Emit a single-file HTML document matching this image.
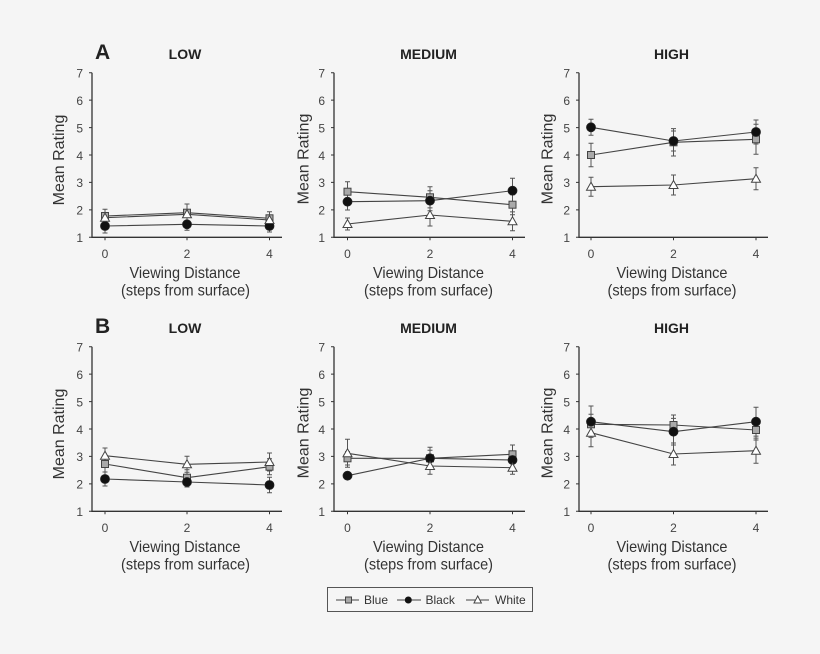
<!DOCTYPE html>
<html><head><meta charset="utf-8"><style>
html,body{margin:0;padding:0;background:#f5f5f5;}
svg{display:block;}
text{font-family:"Liberation Sans",Arial,sans-serif;}
</style></head><body>
<svg width="820" height="654" viewBox="0 0 820 654" xmlns="http://www.w3.org/2000/svg">
<rect width="820" height="654" fill="#f5f5f5"/>
<defs>
<g id="yt">
</g>
</defs>

<!-- panel labels & titles -->
<g fill="#222" font-weight="bold">
<text x="95" y="59" font-size="21">A</text>
<text x="95" y="333" font-size="21">B</text>
<text x="185" y="59" font-size="14" text-anchor="middle">LOW</text>
<text x="428.5" y="59" font-size="14" text-anchor="middle">MEDIUM</text>
<text x="671.5" y="59" font-size="14" text-anchor="middle">HIGH</text>
<text x="185" y="333" font-size="14" text-anchor="middle">LOW</text>
<text x="428.5" y="333" font-size="14" text-anchor="middle">MEDIUM</text>
<text x="671.5" y="333" font-size="14" text-anchor="middle">HIGH</text>
</g>

<!-- axes -->
<g stroke="#333" stroke-width="1.3" fill="none">
<path d="M92 72.7V237.3H282"/><path d="M334 72.7V237.3H525"/><path d="M579 72.7V237.3H768"/>
<path d="M92 346.7V511.3H282"/><path d="M334 346.7V511.3H525"/><path d="M579 346.7V511.3H768"/>
</g>
<g stroke="#333" stroke-width="1" fill="none">
<path d="M89 72.7H92M89 100.1H92M89 127.6H92M89 155H92M89 182.4H92M89 209.9H92M89 237.3H92"/>
<path d="M331 72.7H334M331 100.1H334M331 127.6H334M331 155H334M331 182.4H334M331 209.9H334M331 237.3H334"/>
<path d="M576 72.7H579M576 100.1H579M576 127.6H579M576 155H579M576 182.4H579M576 209.9H579M576 237.3H579"/>
<path d="M89 346.7H92M89 374.1H92M89 401.6H92M89 429H92M89 456.4H92M89 483.9H92M89 511.3H92"/>
<path d="M331 346.7H334M331 374.1H334M331 401.6H334M331 429H334M331 456.4H334M331 483.9H334M331 511.3H334"/>
<path d="M576 346.7H579M576 374.1H579M576 401.6H579M576 429H579M576 456.4H579M576 483.9H579M576 511.3H579"/>
<path d="M105 237.3v3M187 237.3v3M269.5 237.3v3M347.5 237.3v3M430 237.3v3M512.5 237.3v3M591 237.3v3M673.5 237.3v3M756 237.3v3"/>
<path d="M105 511.3v3M187 511.3v3M269.5 511.3v3M347.5 511.3v3M430 511.3v3M512.5 511.3v3M591 511.3v3M673.5 511.3v3M756 511.3v3"/>
</g>

<!-- y tick labels -->
<g fill="#444" font-size="12" text-anchor="end">
<text x="83" y="77.5">7</text><text x="83" y="104.9">6</text><text x="83" y="132.4">5</text><text x="83" y="159.8">4</text><text x="83" y="187.2">3</text><text x="83" y="214.7">2</text><text x="83" y="242.1">1</text>
<text x="325" y="77.5">7</text><text x="325" y="104.9">6</text><text x="325" y="132.4">5</text><text x="325" y="159.8">4</text><text x="325" y="187.2">3</text><text x="325" y="214.7">2</text><text x="325" y="242.1">1</text>
<text x="570" y="77.5">7</text><text x="570" y="104.9">6</text><text x="570" y="132.4">5</text><text x="570" y="159.8">4</text><text x="570" y="187.2">3</text><text x="570" y="214.7">2</text><text x="570" y="242.1">1</text>
<text x="83" y="351.5">7</text><text x="83" y="378.9">6</text><text x="83" y="406.4">5</text><text x="83" y="433.8">4</text><text x="83" y="461.2">3</text><text x="83" y="488.7">2</text><text x="83" y="516.1">1</text>
<text x="325" y="351.5">7</text><text x="325" y="378.9">6</text><text x="325" y="406.4">5</text><text x="325" y="433.8">4</text><text x="325" y="461.2">3</text><text x="325" y="488.7">2</text><text x="325" y="516.1">1</text>
<text x="570" y="351.5">7</text><text x="570" y="378.9">6</text><text x="570" y="406.4">5</text><text x="570" y="433.8">4</text><text x="570" y="461.2">3</text><text x="570" y="488.7">2</text><text x="570" y="516.1">1</text>
</g>

<!-- x tick labels -->
<g fill="#444" font-size="12" text-anchor="middle">
<text x="105" y="258">0</text><text x="187" y="258">2</text><text x="269.5" y="258">4</text>
<text x="347.5" y="258">0</text><text x="430" y="258">2</text><text x="512.5" y="258">4</text>
<text x="591" y="258">0</text><text x="673.5" y="258">2</text><text x="756" y="258">4</text>
<text x="105" y="532">0</text><text x="187" y="532">2</text><text x="269.5" y="532">4</text>
<text x="347.5" y="532">0</text><text x="430" y="532">2</text><text x="512.5" y="532">4</text>
<text x="591" y="532">0</text><text x="673.5" y="532">2</text><text x="756" y="532">4</text>
</g>

<!-- x axis titles -->
<g fill="#333" font-size="16" text-anchor="middle">
<text x="185" y="278" textLength="111" lengthAdjust="spacingAndGlyphs">Viewing Distance</text>
<text x="185.5" y="295.5" textLength="129" lengthAdjust="spacingAndGlyphs">(steps from surface)</text>
<text x="428.5" y="278" textLength="111" lengthAdjust="spacingAndGlyphs">Viewing Distance</text>
<text x="428.5" y="295.5" textLength="129" lengthAdjust="spacingAndGlyphs">(steps from surface)</text>
<text x="672" y="278" textLength="111" lengthAdjust="spacingAndGlyphs">Viewing Distance</text>
<text x="672" y="295.5" textLength="129" lengthAdjust="spacingAndGlyphs">(steps from surface)</text>
<text x="185" y="552" textLength="111" lengthAdjust="spacingAndGlyphs">Viewing Distance</text>
<text x="185.5" y="569.5" textLength="129" lengthAdjust="spacingAndGlyphs">(steps from surface)</text>
<text x="428.5" y="552" textLength="111" lengthAdjust="spacingAndGlyphs">Viewing Distance</text>
<text x="428.5" y="569.5" textLength="129" lengthAdjust="spacingAndGlyphs">(steps from surface)</text>
<text x="672" y="552" textLength="111" lengthAdjust="spacingAndGlyphs">Viewing Distance</text>
<text x="672" y="569.5" textLength="129" lengthAdjust="spacingAndGlyphs">(steps from surface)</text>
</g>

<!-- y axis titles -->
<g fill="#333" font-size="16" text-anchor="middle">
<text transform="translate(64,160) rotate(-90)">Mean Rating</text>
<text transform="translate(308.5,159) rotate(-90)">Mean Rating</text>
<text transform="translate(552.5,159) rotate(-90)">Mean Rating</text>
<text transform="translate(64,434) rotate(-90)">Mean Rating</text>
<text transform="translate(308.5,433) rotate(-90)">Mean Rating</text>
<text transform="translate(552.5,433) rotate(-90)">Mean Rating</text>
</g>

<!-- error bars -->
<g stroke="#555" stroke-width="1" fill="none">
<!-- top LOW -->
<path d="M105 209.3V222.7M102.5 209.3h5M102.5 222.7h5 M187 204V221.4M184.5 204h5M184.5 221.4h5 M269.5 211.7V224.9M267 211.7h5M267 224.9h5"/>
<path d="M105 219V233M102.5 233h5 M187 218.3V230.3M184.5 230.3h5 M269.5 220V232M267 232h5"/>
<path d="M105 212.7V222.7 M187 208.3V220.3 M269.5 215V225"/>
<!-- top MED -->
<path d="M347.5 181.7V201.7M345 181.7h5M345 201.7h5 M430 186.7V207.9M427.5 186.7h5M427.5 207.9h5 M512.5 194.7V214.7M510 194.7h5M510 214.7h5"/>
<path d="M347.5 193.4V210M345 193.4h5M345 210h5 M430 190.7V210.7M427.5 190.7h5M427.5 210.7h5 M512.5 178.3V203.1M510 178.3h5M510 203.1h5"/>
<path d="M347.5 218V230M345 218h5M345 230h5 M430 204V226M427.5 204h5M427.5 226h5 M512.5 211.9V230.7M510 211.9h5M510 230.7h5"/>
<!-- top HIGH -->
<path d="M591 119.3V135.3M588.5 119.3h5M588.5 135.3h5 M673.5 131V151M671 131h5M671 151h5 M756 120V144M753.5 120h5M753.5 144h5"/>
<path d="M591 143.3V166.7M588.5 143.3h5M588.5 166.7h5 M673.5 128.6V156M671 128.6h5M671 156h5 M756 124.3V154.3M753.5 124.3h5M753.5 154.3h5"/>
<path d="M591 177.2V196.2M588.5 177.2h5M588.5 196.2h5 M673.5 175V195M671 175h5M671 195h5 M756 167.7V189.7M753.5 167.7h5M753.5 189.7h5"/>
<!-- bottom LOW -->
<path d="M105 448V463.4M102.5 448h5M102.5 463.4h5 M187 456.3V472.3M184.5 456.3h5M184.5 472.3h5 M269.5 453V471M267 453h5M267 471h5"/>
<path d="M105 456V472M102.5 456h5M102.5 472h5 M187 469.7V485.7M184.5 469.7h5M184.5 485.7h5 M269.5 458.7V474.7M267 458.7h5M267 474.7h5"/>
<path d="M105 472V486M102.5 472h5M102.5 486h5 M187 477V487M184.5 477h5M184.5 487h5 M269.5 477.3V492.7M267 477.3h5M267 492.7h5"/>
<!-- bottom MED -->
<path d="M347.5 439.3V467.3M345 439.3h5M345 467.3h5 M430 457.7V474.3M427.5 457.7h5M427.5 474.3h5 M512.5 461.1V474.3M510 461.1h5M510 474.3h5"/>
<path d="M347.5 451.6V465M345 451.6h5M345 465h5 M430 450.3V466.3M427.5 450.3h5M427.5 466.3h5 M512.5 445V463.6M510 445h5M510 463.6h5"/>
<path d="M347.5 472.7V478.7M345 472.7h5M345 478.7h5 M430 447.3V469.3M427.5 447.3h5M427.5 469.3h5 M512.5 452V468M510 452h5M510 468h5"/>
<!-- bottom HIGH -->
<path d="M591 406V437.4M588.5 406h5M588.5 437.4h5 M673.5 418.4V445M671 418.4h5M671 445h5 M756 407.3V436.1M753.5 407.3h5M753.5 436.1h5"/>
<path d="M591 414.3V434.3M588.5 414.3h5M588.5 434.3h5 M673.5 415V435M671 415h5M671 435h5 M756 420V440M753.5 420h5M753.5 440h5"/>
<path d="M591 418.7V446.7M588.5 418.7h5M588.5 446.7h5 M673.5 443V465M671 443h5M671 465h5 M756 438.1V463.3M753.5 438.1h5M753.5 463.3h5"/>
</g>

<!-- series lines -->
<g stroke="#444" stroke-width="1.1" fill="none">
<polyline points="105,216 187,212.7 269.5,218.3"/>
<polyline points="105,226 187,224.3 269.5,226"/>
<polyline points="105,217.7 187,214.3 269.5,220"/>
<polyline points="347.5,191.7 430,197.3 512.5,204.7"/>
<polyline points="347.5,201.7 430,200.7 512.5,190.7"/>
<polyline points="347.5,224 430,215 512.5,221.3"/>
<polyline points="591,127.3 673.5,141 756,132"/>
<polyline points="591,155 673.5,142.3 756,139.3"/>
<polyline points="591,186.7 673.5,185 756,178.7"/>
<polyline points="105,455.7 187,464.3 269.5,462"/>
<polyline points="105,464 187,477.7 269.5,466.7"/>
<polyline points="105,479 187,482 269.5,485"/>
<polyline points="347.5,453.3 430,466 512.5,467.7"/>
<polyline points="347.5,458.3 430,458.3 512.5,454.3"/>
<polyline points="347.5,475.7 430,458.3 512.5,460"/>
<polyline points="591,421.7 673.5,431.7 756,421.7"/>
<polyline points="591,424.3 673.5,425 756,430"/>
<polyline points="591,432.7 673.5,454 756,450.7"/>
</g>

<!-- blue squares -->
<g fill="#a9a9a9" stroke="#444" stroke-width="1">
<rect x="101.5" y="212.5" width="7" height="7"/><rect x="183.5" y="209.2" width="7" height="7"/><rect x="266" y="214.8" width="7" height="7"/>
<rect x="344" y="188.2" width="7" height="7"/><rect x="426.5" y="193.8" width="7" height="7"/><rect x="509" y="201.2" width="7" height="7"/>
<rect x="587.5" y="151.5" width="7" height="7"/><rect x="670" y="138.8" width="7" height="7"/><rect x="752.5" y="135.8" width="7" height="7"/>
<rect x="101.5" y="460.5" width="7" height="7"/><rect x="183.5" y="474.2" width="7" height="7"/><rect x="266" y="463.2" width="7" height="7"/>
<rect x="344" y="454.8" width="7" height="7"/><rect x="426.5" y="454.8" width="7" height="7"/><rect x="509" y="450.8" width="7" height="7"/>
<rect x="587.5" y="420.8" width="7" height="7"/><rect x="670" y="421.5" width="7" height="7"/><rect x="752.5" y="426.5" width="7" height="7"/>
</g>

<!-- black circles -->
<g fill="#111" stroke="#222" stroke-width="0.8">
<circle cx="105" cy="226" r="4.5"/><circle cx="187" cy="224.3" r="4.5"/><circle cx="269.5" cy="226" r="4.5"/>
<circle cx="347.5" cy="201.7" r="4.5"/><circle cx="430" cy="200.7" r="4.5"/><circle cx="512.5" cy="190.7" r="4.5"/>
<circle cx="591" cy="127.3" r="4.5"/><circle cx="673.5" cy="141" r="4.5"/><circle cx="756" cy="132" r="4.5"/>
<circle cx="105" cy="479" r="4.5"/><circle cx="187" cy="482" r="4.5"/><circle cx="269.5" cy="485" r="4.5"/>
<circle cx="347.5" cy="475.7" r="4.5"/><circle cx="430" cy="458.3" r="4.5"/><circle cx="512.5" cy="460" r="4.5"/>
<circle cx="591" cy="421.7" r="4.5"/><circle cx="673.5" cy="431.7" r="4.5"/><circle cx="756" cy="421.7" r="4.5"/>
</g>

<!-- white triangles -->
<g fill="#fff" stroke="#444" stroke-width="1">
<polygon points="105,213.2 100.5,221.2 109.5,221.2"/><polygon points="187,209.8 182.5,217.8 191.5,217.8"/><polygon points="269.5,215.5 265,223.5 274,223.5"/>
<polygon points="347.5,219.5 343,227.5 352,227.5"/><polygon points="430,210.5 425.5,218.5 434.5,218.5"/><polygon points="512.5,216.8 508,224.8 517,224.8"/>
<polygon points="591,182.2 586.5,190.2 595.5,190.2"/><polygon points="673.5,180.5 669,188.5 678,188.5"/><polygon points="756,174.2 751.5,182.2 760.5,182.2"/>
<polygon points="105,451.2 100.5,459.2 109.5,459.2"/><polygon points="187,459.8 182.5,467.8 191.5,467.8"/><polygon points="269.5,457.5 265,465.5 274,465.5"/>
<polygon points="347.5,448.8 343,456.8 352,456.8"/><polygon points="430,461.5 425.5,469.5 434.5,469.5"/><polygon points="512.5,463.2 508,471.2 517,471.2"/>
<polygon points="591,428.2 586.5,436.2 595.5,436.2"/><polygon points="673.5,449.5 669,457.5 678,457.5"/><polygon points="756,446.2 751.5,454.2 760.5,454.2"/>
</g>

<!-- legend -->
<rect x="327.5" y="587.5" width="205" height="24" fill="none" stroke="#555" stroke-width="1"/>
<g stroke="#444" stroke-width="1" fill="none">
<path d="M336 600H359M397 600H421M466 600H489"/>
</g>
<rect x="345.5" y="597" width="6" height="6" fill="#a9a9a9" stroke="#444" stroke-width="1"/>
<circle cx="408.3" cy="600" r="3.5" fill="#111"/>
<polygon points="477.7,596 474,603 481.4,603" fill="#fff" stroke="#444" stroke-width="1"/>
<g fill="#333" font-size="12">
<text x="364" y="604">Blue</text>
<text x="425.5" y="604">Black</text>
<text x="495" y="604">White</text>
</g>
</svg>
</body></html>
